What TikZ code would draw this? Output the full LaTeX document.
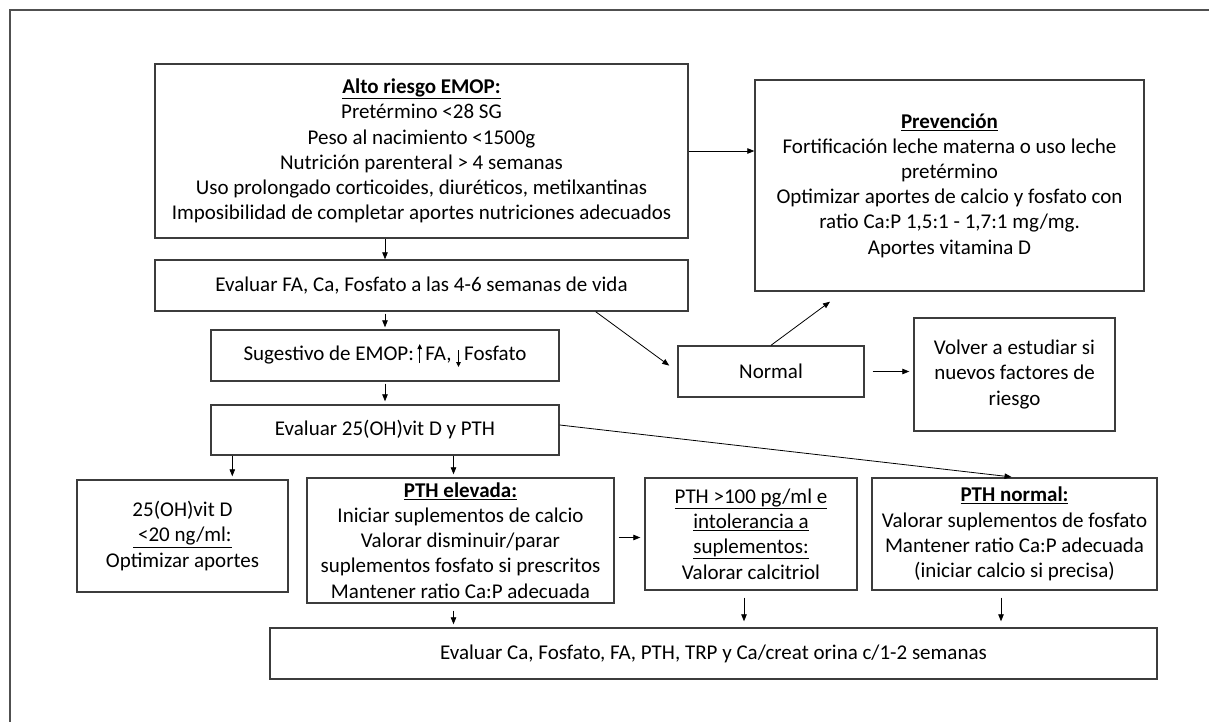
\documentclass[tikz,border=0pt]{standalone}
\usepackage{fontspec}
\setmainfont{Carlito}
\usetikzlibrary{arrows.meta,calc}
\definecolor{boxc}{HTML}{3C3C3C}
\definecolor{framec}{HTML}{505050}
\newcommand{\uparr}{\tikz[baseline=0pt]\draw[draw=black,line width=0.9pt,-{Triangle[length=5pt,width=4.5pt]}] (0pt,-3pt) -- (0pt,16pt);}
\newcommand{\downarr}{\tikz[baseline=0pt]\draw[draw=black,line width=0.9pt,-{Triangle[length=5pt,width=4.5pt]}] (0pt,10pt) -- (0pt,-7pt);}
\begin{document}
\begin{tikzpicture}[x=1pt,y=-1pt,
  box/.style={draw=boxc, line width=1.4pt, align=center, inner sep=0pt, font=\fontsize{21}{25.2}\selectfont},
  arr/.style={draw=black, line width=0.8pt, -{Triangle[length=7pt,width=5.5pt]}}]
\useasboundingbox (0,0) rectangle (1209,722);
\fill[white] (0,0) rectangle (1209,722);
\draw[framec, line width=1.5pt] (10,722) -- (10,10) -- (1209,10);

\node[box, minimum width=533pt, minimum height=174pt] (alto) at (421.5,151)
 {\underline{\textbf{Alto riesgo EMOP:}}\\ Pretérmino <28 SG\\ Peso al nacimiento <1500g\\ Nutrición parenteral > 4 semanas\\ Uso prolongado corticoides, diuréticos, metilxantinas\\ Imposibilidad de completar aportes nutriciones adecuados};
\node[box, minimum width=389pt, minimum height=211pt] (prev) at (949.5,185.5)
 {\underline{\textbf{Prevención}}\\ Fortificación leche materna o uso leche\\ pretérmino\\ Optimizar aportes de calcio y fosfato con\\ ratio Ca:P 1,5:1 - 1,7:1 mg/mg.\\ Aportes vitamina D};
\node[box, minimum width=533pt, minimum height=51pt] (fa) at (421.5,285.5)
 {Evaluar FA, Ca, Fosfato a las 4-6 semanas de vida};
\node[box, minimum width=348pt, minimum height=51pt] (sug) at (385,355.5)
 {Sugestivo de EMOP:\,\uparr\,FA, \downarr\,Fosfato};
\node[box, minimum width=348pt, minimum height=50pt] (ev25) at (385,430)
 {Evaluar 25(OH)vit D y PTH};
\node[box, minimum width=186pt, minimum height=51pt] (normal) at (771,371.5)
 {Normal};
\node[box, minimum width=201pt, minimum height=113pt] (volver) at (1014.5,374.5)
 {Volver a estudiar si\\ nuevos factores de\\ riesgo};
\node[box, minimum width=211pt, minimum height=112pt] (vitd) at (182.5,536)
 {25(OH)vit D\\ \underline{ <20 ng/ml:}\\ Optimizar aportes};
\node[box, minimum width=307pt, minimum height=125pt] (elev) at (460.5,540.5)
 {\underline{\textbf{PTH elevada:}}\\ Iniciar suplementos de calcio\\ Valorar disminuir/parar\\ suplementos fosfato si prescritos\\ Mantener ratio Ca:P adecuada};
\node[box, minimum width=212pt, minimum height=112pt] (p100) at (751,534)
 {\underline{PTH >100 pg/ml e}\\ \underline{intolerancia a}\\ \underline{suplementos:}\\ Valorar calcitriol};
\node[box, minimum width=285pt, minimum height=112pt] (pthn) at (1014.5,534)
 {\underline{\textbf{PTH normal:}}\\ Valorar suplementos de fosfato\\ Mantener ratio Ca:P adecuada\\ (iniciar calcio si precisa)};
\node[box, minimum width=887pt, minimum height=51pt] (bot) at (713.5,653.5)
 {Evaluar Ca, Fosfato, FA, PTH, TRP y Ca/creat orina c/1-2 semanas};

% connectors
\draw[arr] (alto.east) -- (alto.east -| prev.west);
\draw[arr] (alto.south -| sug.north) -- (fa.north -| sug.north);
\draw[arr, shorten <=2pt, shorten >=2pt] (fa.south -| sug.north) -- (sug.north);
\draw[arr, shorten <=2pt, shorten >=3pt] (sug.south) -- (ev25.north);
\draw[arr, shorten >=10pt] ($(fa.south east)+(-93,0)$) -- (normal.west);
\draw[arr] (normal.north) -- ($(prev.south)+(-119.5,10)$);
\draw[arr, shorten <=8pt, shorten >=4pt] (normal.east) -- (normal.east -| volver.west);
\coordinate (vd) at ($(ev25.south west)+(22,0)$);
\draw[arr, shorten >=3pt] (vd) -- (vd |- vitd.north);
\coordinate (el) at ($(elev.north)+(-7,0)$);
\draw[arr, shorten >=3pt] (el |- ev25.south) -- (el);
\draw[arr, shorten >=3pt] ($(ev25.east)+(0,-5)$) -- (pthn.north);
\draw[arr, shorten <=4pt, shorten >=4pt] ($(elev.east)+(0,-3)$) -- ($(elev.east -| p100.west)+(0,-3)$);
\coordinate (eb) at ($(elev.south)+(-7,0)$);
\draw[arr, shorten <=7pt, shorten >=3pt] (eb) -- (eb |- bot.north);
\coordinate (pb) at ($(p100.south)+(-7,0)$);
\draw[arr, shorten <=7pt, shorten >=6pt] (pb) -- (pb |- bot.north);
\coordinate (nb) at ($(pthn.south)+(-13.5,0)$);
\draw[arr, shorten <=7pt, shorten >=6pt] (nb) -- (nb |- bot.north);
\end{tikzpicture}
\end{document}
